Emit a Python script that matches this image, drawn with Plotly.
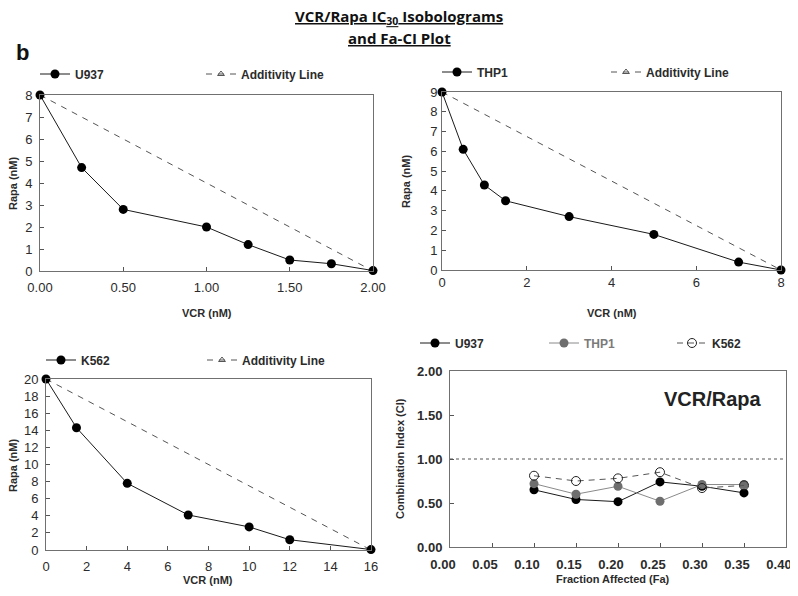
import plotly.graph_objects as go

# page body has an 8px margin on every side; size the figure so the page
# fits the 798x596 window exactly (no scrollbars)
OX, OY = 8, 8
W, H = 798 - OX, 596 - 2 * OY

# ---------------- data ----------------
u937_vcr = [0, 0.25, 0.5, 1.0, 1.25, 1.5, 1.75, 2.0]
u937_rapa = [8, 4.7, 2.8, 2.0, 1.2, 0.5, 0.33, 0.02]
u937_add_vcr = [0, 2.0]
u937_add_rapa = [8, 0]

thp1_vcr = [0, 0.5, 1, 1.5, 3, 5, 7, 8]
thp1_rapa = [9, 6.1, 4.3, 3.5, 2.7, 1.8, 0.4, 0.0]
thp1_add_vcr = [0, 8]
thp1_add_rapa = [9, 0]

k562_vcr = [0, 1.5, 4, 7, 10, 12, 16]
k562_rapa = [20, 14.3, 7.8, 4.1, 2.7, 1.2, 0.05]
k562_add_vcr = [0, 16]
k562_add_rapa = [20, 0]

fa = [0.10, 0.15, 0.20, 0.25, 0.30, 0.35]
ci_u937 = [0.65, 0.54, 0.515, 0.74, 0.69, 0.615]
ci_thp1 = [0.72, 0.60, 0.69, 0.52, 0.71, 0.71]
ci_k562 = [0.81, 0.75, 0.78, 0.85, 0.67, 0.70]

# ---------------- helpers (window pixels -> paper) ----------------
def px(x):
    return (x - OX) / W

def py(y):
    return 1 - (y - OY) / H

def dx(a, b):
    return [px(a), px(b)]

def dy(top, bottom):
    return [py(bottom), py(top)]

DARK = "#1a1a1a"
GRAY = "#555555"
TXT = "#2b2b2b"
FONT = "Liberation Sans, Arial, sans-serif"

fig = go.Figure()

def iso(xs, ys, axs, ays, name, xa, ya, leg):
    fig.add_trace(go.Scatter(
        x=axs, y=ays, mode="lines+markers", name="Additivity Line",
        line=dict(color=GRAY, width=1, dash="6px,6px"),
        marker=dict(symbol="triangle-up-open", size=6, color=GRAY, line=dict(width=1)),
        xaxis=xa, yaxis=ya, legend=leg, cliponaxis=False, legendrank=2))
    fig.add_trace(go.Scatter(
        x=xs, y=ys, mode="lines+markers", name=name,
        line=dict(color=DARK, width=1),
        marker=dict(symbol="circle", size=9, color="black"),
        xaxis=xa, yaxis=ya, legend=leg, cliponaxis=False, legendrank=1))

iso(u937_vcr, u937_rapa, u937_add_vcr, u937_add_rapa, "U937", "x", "y", "legend")
iso(thp1_vcr, thp1_rapa, thp1_add_vcr, thp1_add_rapa, "THP1", "x2", "y2", "legend2")
iso(k562_vcr, k562_rapa, k562_add_vcr, k562_add_rapa, "K562", "x3", "y3", "legend3")

# CI plot
fig.add_trace(go.Scatter(x=fa, y=ci_u937, mode="lines+markers", name="U937",
                         line=dict(color=DARK, width=1),
                         marker=dict(symbol="circle", size=9, color="black"),
                         xaxis="x4", yaxis="y4", legend="legend4", cliponaxis=False))
fig.add_trace(go.Scatter(x=fa, y=ci_thp1, mode="lines+markers",
                         name="<span style='color:#7a7a7a'>THP1</span>",
                         line=dict(color="#8a8a8a", width=1),
                         marker=dict(symbol="circle", size=9, color="#6e6e6e"),
                         xaxis="x4", yaxis="y4", legend="legend4", cliponaxis=False))
fig.add_trace(go.Scatter(x=fa, y=ci_k562, mode="lines+markers", name="K562",
                         line=dict(color=GRAY, width=1, dash="6px,5px"),
                         marker=dict(symbol="circle-open", size=9, color="#222222", line=dict(width=1)),
                         xaxis="x4", yaxis="y4", legend="legend5", cliponaxis=False))

def axis(domain, rng, dtick, fmt=None, anchor=None, bold=False, standoff=0, shift=0):
    d = dict(domain=domain, range=rng, dtick=dtick, tick0=0, showgrid=False, zeroline=False,
             showline=True, linecolor="#707070", linewidth=1, mirror=True,
             ticks="inside", ticklen=4, tickcolor="#555555", automargin=False,
             ticklabelstandoff=standoff, ticklabelshift=shift, ticklabeloverflow="allow",
             tickfont=dict(family=FONT, size=13, color=TXT, weight="bold" if bold else "normal"),
             anchor=anchor, fixedrange=True)
    if fmt:
        d["tickformat"] = fmt
    return d

fig.update_layout(
    template="none",
    width=W, height=H, autosize=False,
    margin=dict(l=0, r=0, t=0, b=0, autoexpand=False),
    paper_bgcolor="white", plot_bgcolor="white",
    xaxis=axis(dx(40, 373), [0, 2], 0.5, ".2f", "y", standoff=4),
    yaxis=axis(dy(95, 271), [0, 8], 1, None, "x", standoff=4),
    xaxis2=axis(dx(442, 781), [0, 8], 2, None, "y2", standoff=0),
    yaxis2=axis(dy(92, 270), [0, 9], 1, None, "x2", standoff=1),
    xaxis3=axis(dx(46, 371), [0, 16], 2, None, "y3", standoff=4),
    yaxis3=axis(dy(379, 550), [0, 20], 2, None, "x3", standoff=4),
    xaxis4=axis(dx(450, 786), [0, 0.4], 0.05, ".2f", "y4", bold=True, standoff=5, shift=-7),
    yaxis4=axis(dy(371, 547), [0, 2], 0.5, ".2f", "x4", bold=True, standoff=4),
    showlegend=True,
)

legfont = dict(family=FONT, size=12, color=TXT, weight="bold")
def leg(xpx, ypx, w):
    return dict(x=px(xpx), y=py(ypx), xanchor="left", yanchor="middle",
                orientation="h", entrywidth=w, entrywidthmode="pixels",
                font=legfont, bgcolor="rgba(0,0,0,0)", traceorder="normal",
                itemclick=False, itemdoubleclick=False)

fig.update_layout(
    legend=leg(35, 74, 121),
    legend2=leg(437, 72, 124),
    legend3=leg(41, 360, 116),
    legend4=leg(415, 343, 84),
    legend5=leg(672, 343, 60),
)

# dotted CI = 1 reference line
fig.add_shape(type="line", xref="x4 domain", yref="y4", x0=0, x1=1, y0=1, y1=1,
              line=dict(color="#555555", width=1, dash="dot"))

ann = []
def txt(s, xpx, ypx, size=11, angle=0, bold=True, font=FONT, color=TXT):
    ann.append(dict(text=s, x=px(xpx), y=py(ypx), xref="paper", yref="paper",
                    showarrow=False, textangle=angle, xanchor="center", yanchor="middle",
                    font=dict(family=font, size=size, color=color,
                              weight="bold" if bold else "normal")))

TITLEF = "Open Sans, Liberation Sans, sans-serif"
txt("<u>VCR/Rapa IC<sub>30</sub> Isobolograms</u>", 399, 17, size=15, font=TITLEF, color="#111")
txt("<u>and Fa-CI Plot</u>", 399, 38, size=15, font=TITLEF, color="#111")
txt("b", 22, 52, size=22, font=FONT, color="#111")

txt("Rapa (nM)", 13, 183, angle=-90)
txt("VCR (nM)", 207, 313)
txt("Rapa (nM)", 406, 181, angle=-90)
txt("VCR (nM)", 612, 313)
txt("Rapa (nM)", 13, 465, angle=-90)
txt("VCR (nM)", 208, 580)
txt("Combination Index (CI)", 400, 459, angle=-90)
txt("Fraction Affected (Fa)", 613, 579)
txt("VCR/Rapa", 713, 399, size=20, color="#222")

fig.update_layout(annotations=ann)

fig.write_html("out.html")
